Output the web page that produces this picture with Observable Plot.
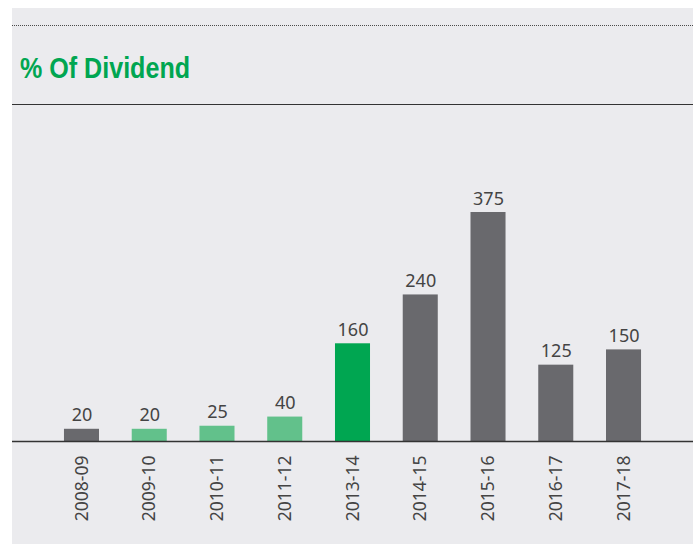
<!DOCTYPE html>
<html>
<head>
<meta charset="utf-8">
<script src="https://cdn.jsdelivr.net/npm/d3@7"></script>
<script src="https://cdn.jsdelivr.net/npm/@observablehq/plot@0.6"></script>
<style>
  html, body { margin: 0; padding: 0; background: #ffffff; }
  #panel { position: absolute; left: 12px; top: 8px; width: 681px; height: 536px; background: #ebebee; overflow: hidden; }
  #dots { position: absolute; left: 0; top: 17px; width: 100%; border-top: 1px dotted #4a4a4a; }
  #title { position: absolute; left: 8px; top: 46px; margin: 0; font-family: "Liberation Sans", Arial, sans-serif; font-weight: bold; font-size: 29px; line-height: 29px; color: #00a651; white-space: nowrap; transform: scaleX(0.865); transform-origin: 0 0; }
  #rule { position: absolute; left: 0; top: 96px; width: 100%; border-top: 1.5px solid #333333; }
  #chart { position: absolute; left: 0; top: 97px; }
</style>
</head>
<body>
<div id="panel">
  <div id="dots"></div>
  <h1 id="title">% Of Dividend</h1>
  <div id="rule"></div>
  <div id="chart"></div>
</div>
<script>
const years = ["2008-09","2009-10","2010-11","2011-12","2013-14","2014-15","2015-16","2016-17","2017-18"];
const dividend = [20, 20, 25, 40, 160, 240, 375, 125, 150];
const group = ["a","b","b","b","c","a","a","a","a"];

const data = years.map((y, i) => ({year: y, value: dividend[i], group: group[i]}));

const chart = Plot.plot({
  width: 681,
  height: 439,
  marginLeft: 0,
  marginRight: 0,
  marginTop: 107,
  marginBottom: 103,
  style: {background: "transparent", fontFamily: "'Noto Sans', sans-serif", color: "#444444"},
  x: {domain: years, paddingInner: 0.483, paddingOuter: 0.767, round: false, label: null},
  y: {domain: [0, 375], axis: null},
  color: {domain: ["a","b","c"], range: ["#69696d", "#62c18b", "#00a651"]},
  marks: [
    Plot.barY(data, {x: "year", y: "value", fill: "group"}),
    Plot.ruleY([0], {stroke: "#333333", strokeWidth: 1.5}),
    Plot.text(data, {x: "year", y: "value", text: d => String(d.value), dy: -8, lineAnchor: "bottom", fontSize: 18, fill: "#444444"}),
    Plot.axisX({tickRotate: -90, tickSize: 0, tickPadding: 14, fontSize: 17.5, fill: "#444444", label: null})
  ]
});
document.getElementById("chart").appendChild(chart);
</script>
</body>
</html>
